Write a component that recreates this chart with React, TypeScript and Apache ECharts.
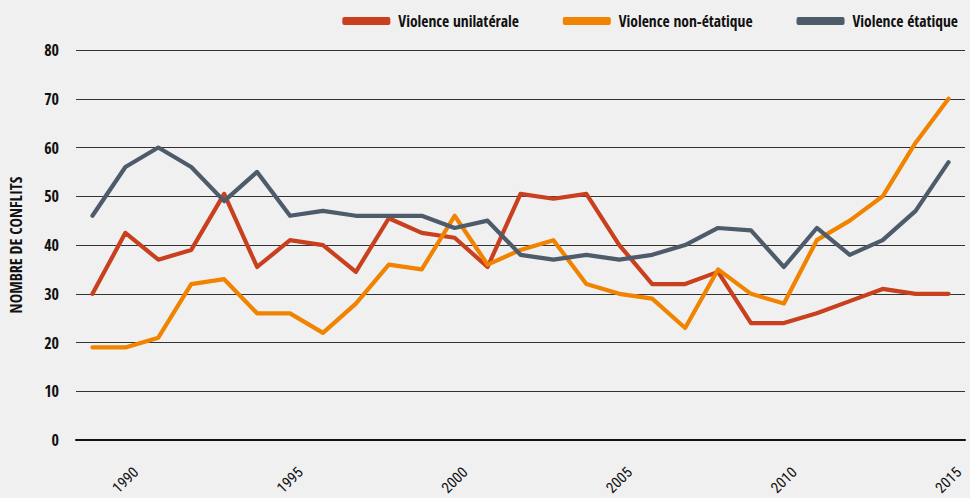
import React, { useEffect, useRef } from "react";
import * as echarts from "echarts";

const years = ["1989","1990","1991","1992","1993","1994","1995","1996","1997","1998","1999","2000","2001","2002","2003","2004","2005","2006","2007","2008","2009","2010","2011","2012","2013","2014","2015"];
const unilateral = [30,42.5,37,39,50.5,35.5,41,40,34.5,45.5,42.5,41.5,35.5,50.5,49.5,50.5,40,32,32,34.5,24,24,26,28.5,31,30,30];
const nonState = [19,19,21,32,33,26,26,22,28,36,35,46,36,39,41,32,30,29,23,35,30,28,41,45,50,61,70];
const stateBased = [46,56,60,56,49,55,46,47,46,46,46,43.5,45,38,37,38,37,38,40,43.5,43,35.5,43.5,38,41,47,57];
const yTicks = { min: 0, max: 80, interval: 10 };

const FONT = "'Open Sans Condensed', 'Roboto Condensed', sans-serif";
const FONT_LIGHT = "'Roboto Condensed', 'Open Sans Condensed', sans-serif";

export default function App() {
  const ref = useRef<HTMLDivElement>(null);
  useEffect(() => {
    if (!ref.current) return;
    const chart = echarts.init(ref.current, null, { renderer: "svg" });
    const mk = (name: string, data: number[], color: string) => ({
      name,
      type: "line",
      data,
      symbol: "none",
      lineStyle: { width: 4.2, color, cap: "round", join: "round" },
      itemStyle: { color },
    });
    chart.setOption({
      animation: false,
      backgroundColor: "#f0f0f0",
      textStyle: { fontFamily: FONT },
      legend: {
        top: 8,
        right: 7,
        icon: "roundRect",
        itemWidth: 48,
        itemHeight: 8,
        itemGap: 44,
        textStyle: { fontFamily: FONT, fontSize: 15.5, fontWeight: "bold", color: "#111", padding: [0, 0, 0, 3] },
        data: ["Violence unilatérale", "Violence non-étatique", "Violence étatique"],
      },
      grid: { left: 70, right: 5, top: 50, bottom: 55, containLabel: false },
      xAxis: {
        type: "category",
        data: years,
        boundaryGap: true,
        axisLine: { show: true, lineStyle: { color: "#111", width: 2 } },
        axisTick: { show: false },
        axisLabel: {
          interval: (i: number, v: string) => Number(v) % 5 === 0,
          rotate: 45,
          align: "center",
          verticalAlign: "middle",
          margin: 40,
          fontFamily: FONT_LIGHT,
          fontSize: 15,
          fontWeight: "normal",
          color: "#111",
        },
      },
      yAxis: {
        type: "value",
        min: yTicks.min,
        max: yTicks.max,
        interval: yTicks.interval,
        name: "NOMBRE DE CONFLITS",
        nameLocation: "middle",
        nameGap: 52,
        nameTextStyle: { fontFamily: FONT, fontSize: 16, fontWeight: "bold", color: "#111" },
        axisLine: { show: false },
        axisTick: { show: false },
        axisLabel: { margin: 17, fontFamily: FONT, fontSize: 16, fontWeight: "bold", color: "#111" },
        splitLine: { show: true, lineStyle: { color: "#333", width: 1 } },
      },
      series: [
        mk("Violence unilatérale", unilateral, "#c8401e"),
        mk("Violence non-étatique", nonState, "#f08300"),
        mk("Violence étatique", stateBased, "#4d5b6a"),
      ],
    });
    return () => chart.dispose();
  }, []);
  return <div ref={ref} style={{ width: 970, height: 498, position: "absolute", left: 0, top: 0 }} />;
}
